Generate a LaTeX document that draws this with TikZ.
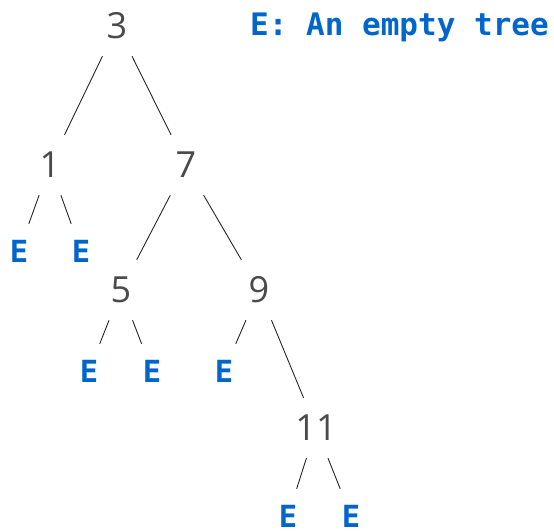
\documentclass[tikz,border=0pt]{standalone}
\usepackage{fontspec}
\usepackage{xcolor}
\usepackage{tikz}
\usetikzlibrary{positioning}
\newfontfamily\valuefont{Open Sans}
\newfontfamily\emptyfont{DejaVu Sans Mono}
\definecolor{valuegray}{HTML}{4A4A4A}
\definecolor{emptyblue}{HTML}{0066CC}
\tikzset{
    value_node/.style={text=valuegray, font=\valuefont\fontsize{36}{40}\selectfont, inner sep=0pt, minimum width=40pt, minimum height=60pt},
    empty_node/.style={text=emptyblue, font=\emptyfont\bfseries\fontsize{30.5}{34}\selectfont, inner sep=0pt, minimum width=30pt, minimum height=54pt},
    branch/.style={line width=0.9pt, black!85}
}

\begin{document}
\begin{tikzpicture}[x=1pt, y=-1pt]
    \useasboundingbox (0,0) rectangle (554,530);
    % Values
    \node[value_node] (n3) at (117,26) {3};
    \node[value_node] (n1) at (50,165) {1};
    \node[value_node] (n7) at (186,165) {7};
    \node[value_node] (n5) at (121,290) {5};
    \node[value_node] (n9) at (259,290) {9};
    \node[value_node] (n11) at (316,428) {11};
    % Empty trees
    \node[empty_node] (e1l) at (19,251) {E};
    \node[empty_node] (e1r) at (81,251) {E};
    \node[empty_node] (e5l) at (89,371) {E};
    \node[empty_node] (e5r) at (152,371) {E};
    \node[empty_node] (e9l) at (224,371) {E};
    \node[empty_node] (e11l) at (288,516) {E};
    \node[empty_node] (e11r) at (351,516) {E};
    % Branches
    \draw[branch] (n3) -- (n1);
    \draw[branch] (n3) -- (n7);
    \draw[branch] (n1) -- (e1l);
    \draw[branch] (n1) -- (e1r);
    \draw[branch] (n7) -- (n5);
    \draw[branch] (n7) -- (n9);
    \draw[branch] (n5) -- (e5l);
    \draw[branch] (n5) -- (e5r);
    \draw[branch] (n9) -- (e9l);
    \draw[branch] (n9) -- (n11);
    \draw[branch] (n11) -- (e11l);
    \draw[branch] (n11) -- (e11r);
    % Legend
    \node[empty_node, font=\emptyfont\bfseries\fontsize{31}{34}\selectfont, anchor=base west, minimum width=0pt, minimum height=0pt] (legend) at (250,35) {E: An empty tree};
\end{tikzpicture}
\end{document}
